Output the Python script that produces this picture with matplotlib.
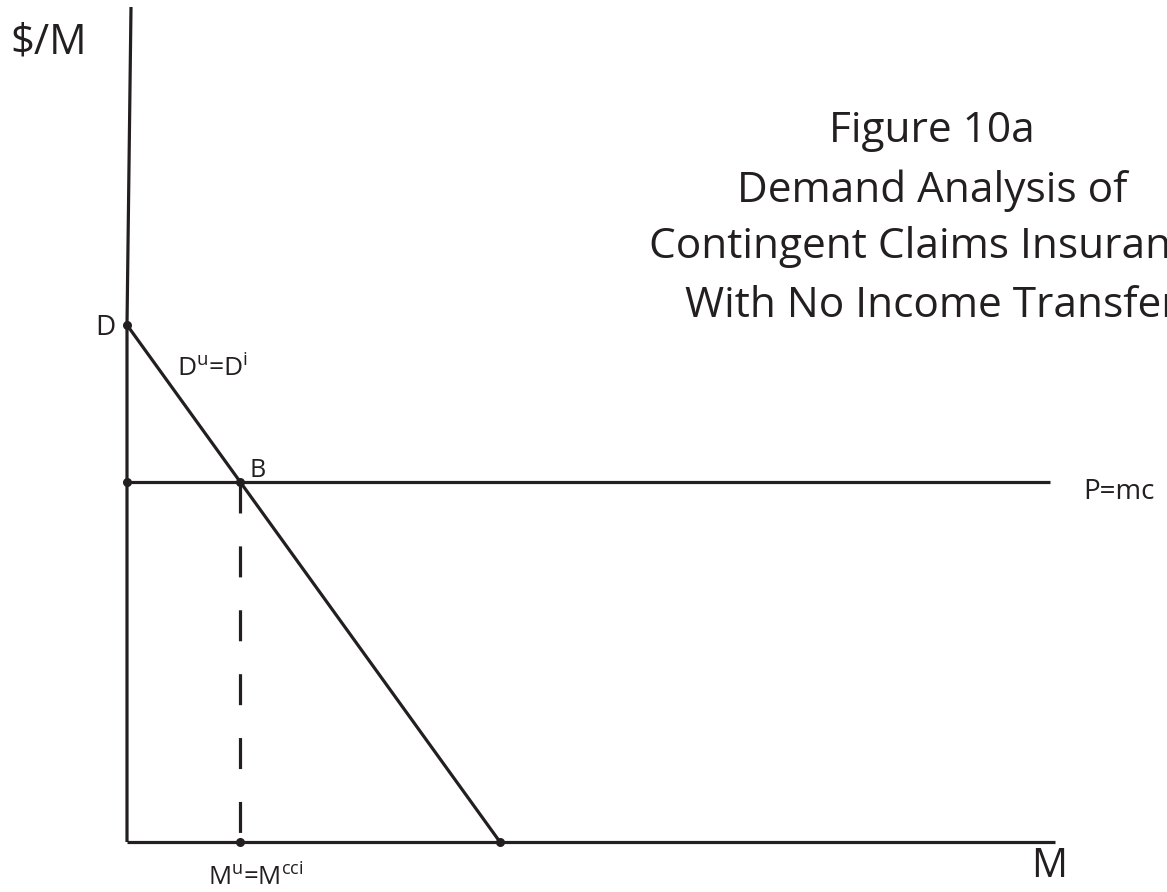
import matplotlib
matplotlib.use("Agg")
import matplotlib.pyplot as plt

plt.rcParams['font.family'] = ['Open Sans', 'DejaVu Sans']
plt.rcParams['mathtext.fontset'] = 'custom'
plt.rcParams['mathtext.rm'] = 'Open Sans'
plt.rcParams['mathtext.it'] = 'Open Sans'

# ---- data (schematic units) ----
demand_q = [0, 373]          # quantity at D intercept and at zero price
demand_p = [517, 0]          # price at D intercept and at zero quantity
price_mc = 360               # P = mc level
q_b = 113                    # quantity at point B (M^u = M^cci)
axis_top = 835               # top of the price axis
axis_top_x = 4               # slight lean of the hand-drawn price axis
x_axis_end = 928
mc_line_end = 923
title_lines = ["Figure 10a", "Demand Analysis of",
               "Contingent Claims Insurance", "With No Income Transfer"]

W, H = 1167, 892
fig = plt.figure(figsize=(W / 100, H / 100), dpi=100)
ax = fig.add_axes([0, 0, 1, 1])
ax.set_xlim(-127, W - 127)
ax.set_ylim(842 - H, 842)
ax.axis('off')

lw = 2.3
col = '#231f20'

# axes
ax.plot([axis_top_x, 0, 0], [axis_top, demand_p[0], 0], color=col, lw=lw, solid_capstyle='butt')
ax.plot([0, x_axis_end], [0, 0], color=col, lw=lw, solid_capstyle='butt')
# P = mc line
ax.plot([0, mc_line_end], [price_mc, price_mc], color=col, lw=lw, solid_capstyle='butt')
# demand curve
ax.plot(demand_q, demand_p, color=col, lw=lw, solid_capstyle='butt')
# dashed line from B down
dl, = ax.plot([q_b, q_b], [price_mc, 0], color=col, lw=lw, solid_capstyle='butt')
dl.set_dashes([9.7, 10.3])
# dots
ax.plot([0, 0, q_b, q_b, demand_q[1]], [demand_p[0], price_mc, price_mc, 0, 0],
        'o', color=col, ms=6.5, mec='none')

# labels
ax.text(-117, 789, "$/M", fontsize=30, ha='left', va='baseline', color=col)
ax.text(-12, 507, "D", fontsize=20, ha='right', va='baseline', color=col)
ax.text(50, 465, r"D$^{\mathrm{u}}$=D$^{\mathrm{i}}$", fontsize=19, ha='left', va='baseline', color=col)
ax.text(122, 365, "B", fontsize=18, ha='left', va='baseline', color=col)
ax.text(956, 343, "P=mc", fontsize=20, ha='left', va='baseline', color=col)
ax.text(81, -44, r"M$^{\mathrm{u}}$=M$^{\mathrm{cci}}$", fontsize=18.5, ha='left', va='baseline', color=col)
ax.text(904, -35, "M", fontsize=29, ha='left', va='baseline', color=col)

baselines = [700, 640, 584, 525]
for line, b in zip(title_lines, baselines):
    ax.text(805, b, line, fontsize=30.5, ha='center', va='baseline', color=col)

fig.savefig("out.png", dpi=100)
